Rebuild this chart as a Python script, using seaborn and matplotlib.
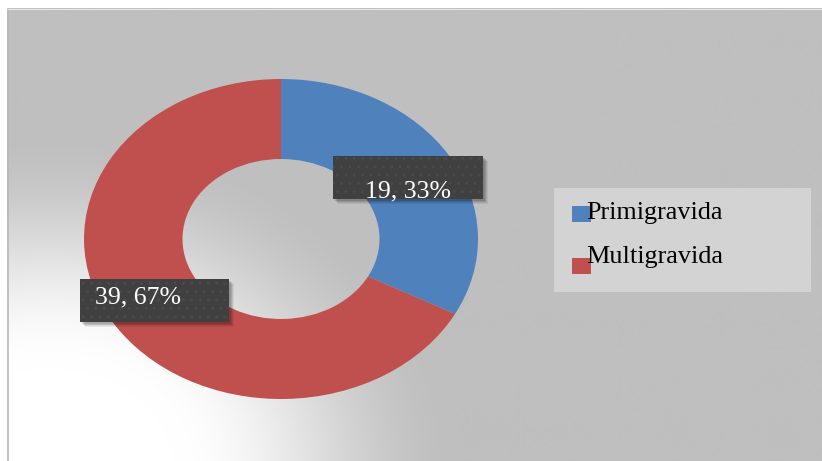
import numpy as np
import matplotlib.pyplot as plt
import matplotlib.patches as mpatches
import seaborn as sns

categories = ['Primigravida', 'Multigravida']
counts = [19, 39]
colors = ['#4F81BD', '#C0504D']

sns.set_theme(style='white')
plt.rcParams['font.family'] = ['Liberation Serif', 'DejaVu Serif']

total = sum(counts)
labels = [f'{c}, {c / total * 100:.0f}%' for c in counts]

W, H = 822, 461
fig = plt.figure(figsize=(W / 100, H / 100), dpi=100, facecolor='white')

# background with soft white glow in the lower left
bg = fig.add_axes([0, 0, 1, 1], zorder=0)
bg.set_xlim(0, W)
bg.set_ylim(H, 0)
bg.axis('off')
xs = np.arange(7, W)
ys = np.arange(9, H)
gx, gy = np.meshgrid(xs, ys)
r = np.sqrt(((gx - 50) / 410.0) ** 2 + ((gy - 470) / 340.0) ** 2)
t = np.clip((r - 0.3) / 0.7, 0, 1)
t = t * t * (3 - 2 * t)
shade = (255 - (255 - 191) * t) / 255.0
img = np.dstack([shade, shade, shade])
bg.imshow(img, extent=(7, W, H, 9), aspect='auto', interpolation='bilinear')
bg.plot([7.5, 7.5], [9, H], color='#b8b8b8', lw=1.2)
bg.plot([7, W], [9, 9], color='#e6e6e6', lw=0.8)

# donut
cx, cy, rx, ry = 281, 239, 197, 160
ax = fig.add_axes([(cx - rx) / W, 1 - (cy + ry) / H, 2 * rx / W, 2 * ry / H], zorder=1)
ax.pie(counts, colors=colors, startangle=90, counterclock=False, radius=1,
       wedgeprops=dict(width=0.5, edgecolor='none'))
ax.set_aspect('auto')
ax.set_xlim(-1, 1)
ax.set_ylim(-1, 1)
ax.axis('off')

# overlay in pixel coords for data labels and legend
ov = fig.add_axes([0, 0, 1, 1], zorder=2)
ov.set_xlim(0, W)
ov.set_ylim(H, 0)
ov.axis('off')
ov.patch.set_alpha(0)

boxes = [(333, 156, 150, 43), (80, 279, 149, 43)]
text_pos = [(408, 197, 'center'), (95, 303, 'left')]
for (bx, by, bw, bh), (tx, ty, ha), lab in zip(boxes, text_pos, labels):
    for k, a in [(6, 0.06), (5, 0.08), (4, 0.1), (3, 0.12)]:
        ov.add_patch(mpatches.Rectangle((bx + k - 1, by + k - 1), bw, bh,
                                        facecolor='black', alpha=a, lw=0))
    ov.add_patch(mpatches.Rectangle((bx, by), bw, bh, facecolor='#404040',
                                    edgecolor='#4a4a4a', hatch='..', lw=0))
    ov.text(tx, ty, lab, color='white', fontsize=18.5, ha=ha, va='baseline')

# legend
ov.add_patch(mpatches.Rectangle((554, 188), 257, 104, facecolor='#D3D3D3', lw=0))
for i, (cat, col) in enumerate(zip(categories, colors)):
    my = 206 + i * 52
    ov.add_patch(mpatches.Rectangle((572, my), 19, 16, facecolor=col, lw=0))
    ov.text(586, 219 + i * 44, cat, color='black', fontsize=18.8, ha='left', va='baseline')

fig.savefig('out.png', dpi=100, facecolor='white')
